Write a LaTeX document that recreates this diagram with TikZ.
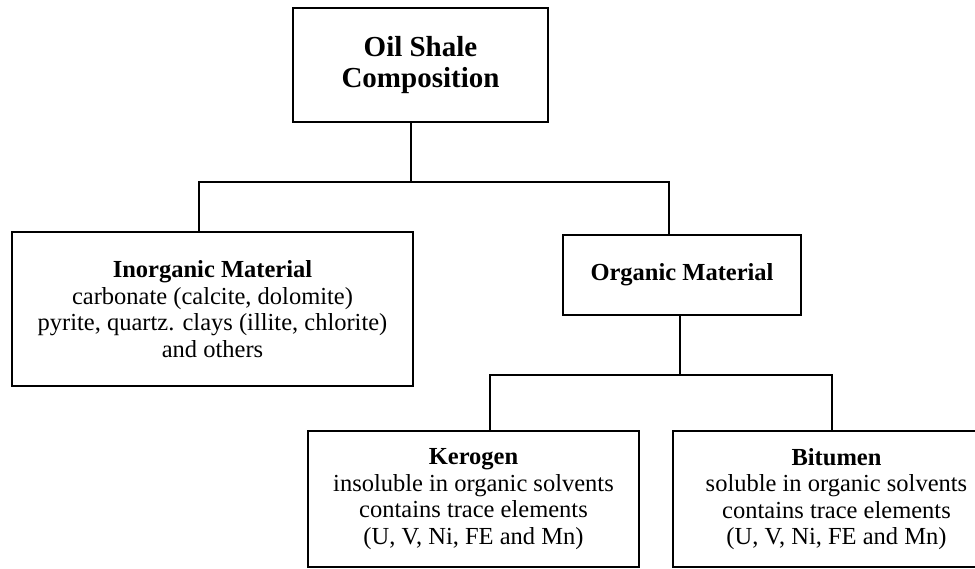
\documentclass[tikz,border=0pt]{standalone}
\usepackage{fontspec}
\setmainfont{Liberation Serif}
\usepackage{tikz}
\usetikzlibrary{positioning,calc}

\begin{document}
\begin{tikzpicture}[
  x=1pt, y=-1pt,
  box/.style={draw, line width=1.3pt, inner sep=0pt, align=center, font=\fontsize{24.5}{26.5}\selectfont},
  link/.style={line width=1.3pt},
]
\useasboundingbox (0,0) rectangle (975,568);
\fill[white] (0,0) rectangle (975,568);
\clip (0,0) rectangle (975,568);

\node[box, minimum width=255, minimum height=114, font=\fontsize{29}{31}\selectfont\bfseries] (shale) at (420.5,65) {Oil Shale\\Composition};
\node[box, minimum width=401, minimum height=154] (inorg) at (212.5,309)
  {\textbf{Inorganic Material}\\carbonate (calcite, dolomite)\\pyrite, quartz. clays (illite, chlorite)\\and others};
\node[box, minimum width=238, minimum height=80] (org) at (682,275) {\textbf{Organic Material}};
\node[box, minimum width=331, minimum height=136] (kero) at (473.5,499)
  {\textbf{Kerogen}\\insoluble in organic solvents\\contains trace elements\\(U, V, Ni, FE and Mn)};
\node[box, minimum width=327, minimum height=136] (bitu) at (836.5,499)
  {\textbf{Bitumen}\\soluble in organic solvents\\contains trace elements\\(U, V, Ni, FE and Mn)};

\coordinate (bus1) at (411,182);
\coordinate (bus2) at (680,375);

\draw[link] (shale.south -| bus1) -- (bus1);
\draw[link] ([xshift=-13.5]inorg.north) |- (bus1) -| ([xshift=-13]org.north);
\draw[link] (org.south -| bus2) -- (bus2);
\draw[link] ([xshift=16.5]kero.north) |- (bus2) -| ([xshift=-4.5]bitu.north);
\end{tikzpicture}
\end{document}
